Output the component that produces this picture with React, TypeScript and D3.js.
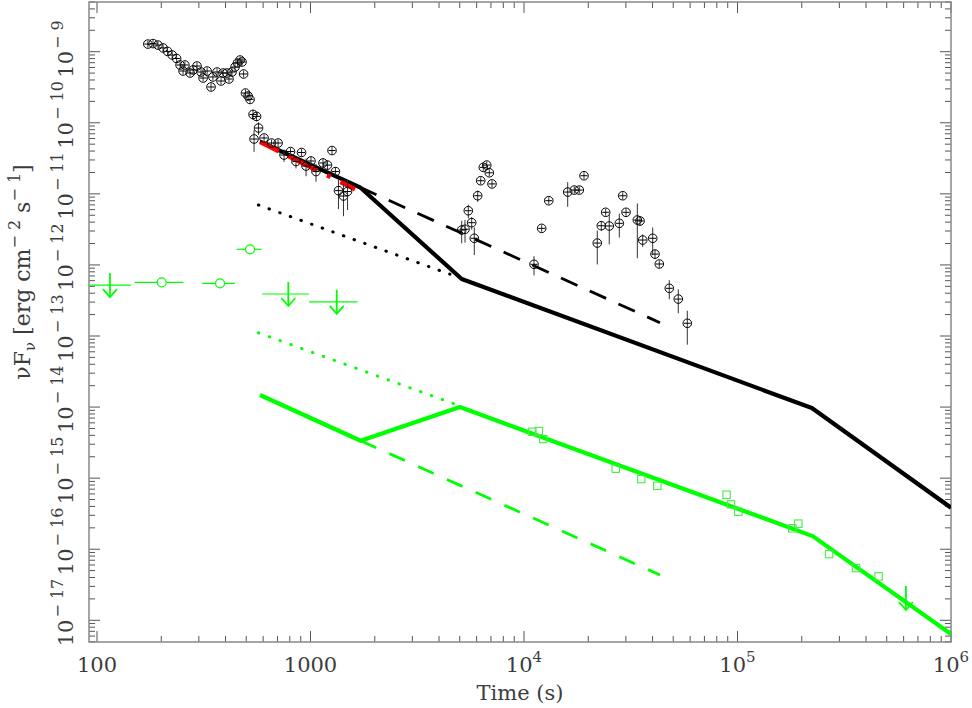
import React, { useEffect, useRef } from "react";
import * as d3 from "d3";

// X-ray (black) light curve: time (s), nuFnu flux, relative error
const blackTime = [173, 183, 193, 204, 214, 225, 236, 245, 253, 258, 273, 282, 294, 307, 314, 328, 342, 349, 365, 381, 389, 406, 415, 429, 443, 455, 468, 478, 486, 496, 510, 521, 538, 559, 571, 544, 606, 657, 705, 752, 806, 855, 908, 953, 1005, 1061, 1144, 1201, 1261, 1309, 1352, 1427, 1491, 5108, 5292, 5484, 5689, 5850, 6069, 6269, 6448, 6689, 6879, 7081, 11140, 12100, 13060, 16020, 17200, 18160, 19100, 22040, 23020, 24130, 25080, 27950, 29000, 30050, 33950, 34950, 35970, 40070, 41080, 43030, 47920, 52800, 58200];
const blackFlux = [1.28e-9, 1.30e-9, 1.24e-9, 1.13e-9, 1.01e-9, 8.99e-10, 8.02e-10, 6.50e-10, 5.35e-10, 6.50e-10, 5.01e-10, 5.53e-10, 6.29e-10, 5.18e-10, 4.26e-10, 5.35e-10, 3.19e-10, 4.41e-10, 5.18e-10, 3.87e-10, 5.01e-10, 5.01e-10, 4.13e-10, 5.18e-10, 6.09e-10, 6.93e-10, 7.64e-10, 7.16e-10, 4.86e-10, 2.62e-10, 2.38e-10, 2.13e-10, 1.31e-10, 1.23e-10, 8.44e-11, 5.91e-11, 6.11e-11, 5.19e-11, 5.19e-11, 3.52e-11, 3.94e-11, 2.85e-11, 3.82e-11, 2.46e-11, 2.90e-11, 2.06e-11, 2.72e-11, 2.54e-11, 4.07e-11, 2.06e-11, 1.11e-11, 9.32e-12, 1.08e-11, 3.10e-12, 3.17e-12, 5.79e-12, 3.93e-12, 2.37e-12, 9.41e-12, 1.53e-11, 2.36e-11, 2.54e-11, 1.98e-11, 1.38e-11, 1.02e-12, 3.27e-12, 8.01e-12, 1.06e-11, 1.13e-11, 1.13e-11, 1.80e-11, 2.03e-12, 3.56e-12, 5.50e-12, 3.53e-12, 3.85e-12, 9.41e-12, 5.50e-12, 4.28e-12, 4.15e-12, 2.24e-12, 2.37e-12, 1.42e-12, 1.03e-12, 4.69e-13, 3.31e-13, 1.51e-13];
const blackErr = [0.05, 0.05, 0.05, 0.05, 0.05, 0.05, 0.05, 0.05, 0.05, 0.05, 0.05, 0.05, 0.05, 0.05, 0.05, 0.05, 0.05, 0.05, 0.05, 0.05, 0.05, 0.05, 0.05, 0.05, 0.05, 0.05, 0.05, 0.05, 0.1, 0.08, 0.08, 0.08, 0.17, 0.15, 0.2, 0.34, 0.1, 0.1, 0.12, 0.2, 0.12, 0.2, 0.12, 0.28, 0.15, 0.28, 0.15, 0.15, 0.12, 0.15, 0.45, 0.48, 0.45, 0.35, 0.35, 0.22, 0.2, 0.42, 0.18, 0.1, 0.08, 0.08, 0.1, 0.1, 0.3, 0.1, 0.08, 0.38, 0.1, 0.1, 0.08, 0.5, 0.15, 0.1, 0.45, 0.37, 0.08, 0.1, 0.71, 0.15, 0.2, 0.42, 0.15, 0.12, 0.3, 0.37, 0.5];

// optical (green) detections
const greenSqTime = [10940, 11750, 12300, 26900, 35400, 42100, 88900, 93200, 100900, 180600, 192700, 268400, 359000, 458000];
const greenSqFlux = [4.5e-15, 4.6e-15, 3.55e-15, 1.36e-15, 9.7e-16, 7.8e-16, 5.85e-16, 4.28e-16, 3.37e-16, 1.97e-16, 2.29e-16, 8.55e-17, 5.43e-17, 4.15e-17];
const greenCircTime = [201, 377, 521];
const greenCircFlux = [5.69e-13, 5.51e-13, 1.66e-12];
const greenCircTmin = [150, 311, 451];
const greenCircTmax = [254, 443, 590];
const greenUlTime = [115, 787, 1327, 615000];
const greenUlFlux = [5.21e-13, 3.90e-13, 3.03e-13, 2.06e-17];
const greenUlTmin = [88, 594, 984, 615000];
const greenUlTmax = [144, 984, 1663, 615000];

// model curves
const blackModelT = [580, 1706, 5108, 223000, 1000000];
const blackModelF = [5.42e-11, 1.236e-11, 6.34e-13, 9.7e-15, 3.84e-16];
const blackDashT = [1706, 43350];
const blackDashF = [1.236e-11, 1.54e-13];
const blackDotT = [570, 4500];
const blackDotF = [6.97e-12, 7.4e-13];
const redFitT = [585, 1616];
const redFitF = [5.31e-11, 1.16e-11];
const greenModelT = [580, 1718, 5010, 225000, 1000000];
const greenModelF = [1.48e-14, 3.36e-15, 1.0e-14, 1.53e-16, 6.4e-18];
const greenDashT = [1718, 43350];
const greenDashF = [3.36e-15, 4.34e-17];
const greenDotT = [570, 4750];
const greenDotF = [1.11e-13, 1.1e-14];

const xDecades = [2, 3, 4, 5, 6];
const yDecades = [-9, -10, -11, -12, -13, -14, -15, -16, -17];

const W = 972, H = 708;
const left = 89, right = 951, top = 2, bottom = 642;
const FONT = "'DejaVu Serif', serif";
const TEXT = "#3c3c3c";
const GREEN = "#00ff00";

export default function App() {
  const ref = useRef(null);

  useEffect(() => {
    const svg = d3.select(ref.current);
    svg.selectAll("*").remove();

    const x = d3.scaleLog().domain([Math.pow(10, 2 - 8 / 213.5), 1e6]).range([left, right]);
    const y = d3.scaleLog().domain([Math.pow(10, -17.3053), Math.pow(10, -8.3007)]).range([bottom, top]);

    svg.append("defs").append("clipPath").attr("id", "plotclip")
      .append("rect").attr("x", left).attr("y", top).attr("width", right - left).attr("height", bottom - top);

    // ticks on all four sides
    const tk = svg.append("g").attr("stroke", "#555").attr("stroke-width", 1);
    for (let d = 1; d <= 6; d++) {
      for (let m = 1; m <= 9; m++) {
        const v = m * Math.pow(10, d);
        if (v < x.domain()[0] || v > 1e6) continue;
        const len = m === 1 ? 11 : 6;
        const px = x(v);
        tk.append("line").attr("x1", px).attr("x2", px).attr("y1", bottom).attr("y2", bottom - len);
        tk.append("line").attr("x1", px).attr("x2", px).attr("y1", top).attr("y2", top + len);
      }
    }
    for (let d = -18; d <= -9; d++) {
      for (let m = 1; m <= 9; m++) {
        const v = m * Math.pow(10, d);
        if (v < y.domain()[0] || v > y.domain()[1]) continue;
        const len = m === 1 ? 11 : 6;
        const py = y(v);
        tk.append("line").attr("x1", left).attr("x2", left + len).attr("y1", py).attr("y2", py);
        tk.append("line").attr("x1", right).attr("x2", right - len).attr("y1", py).attr("y2", py);
      }
    }
    svg.append("rect").attr("x", left).attr("y", top).attr("width", right - left).attr("height", bottom - top)
      .attr("fill", "none").attr("stroke", "#888").attr("stroke-width", 1.5);

    // x tick labels
    xDecades.forEach(d => {
      const t = svg.append("text").attr("x", x(Math.pow(10, d))).attr("y", 672)
        .attr("text-anchor", "middle").attr("font-family", FONT).attr("font-size", 21).attr("fill", TEXT);
      if (d <= 3) t.text(String(Math.pow(10, d)));
      else {
        t.append("tspan").text("10");
        t.append("tspan").attr("dy", -10).attr("font-size", 15).text(String(d));
      }
    });
    svg.append("text").attr("x", 520).attr("y", 700).attr("text-anchor", "middle")
      .attr("font-family", FONT).attr("font-size", 21).attr("fill", TEXT).text("Time (s)");

    // y tick labels (rotated)
    yDecades.forEach(d => {
      const t = svg.append("text")
        .attr("transform", `translate(73,${y(Math.pow(10, d)) + 26}) rotate(-90)`)
        .attr("font-family", FONT).attr("font-size", 21).attr("fill", TEXT);
      t.append("tspan").text("10");
      t.append("tspan").attr("dy", -10).attr("dx", 2).attr("font-size", 16).text("\u2212 " + Math.abs(d));
    });
    const yt = svg.append("text").attr("transform", "translate(30,272) rotate(-90)")
      .attr("text-anchor", "middle").attr("font-family", FONT).attr("font-size", 22).attr("fill", TEXT);
    yt.append("tspan").text("\u03bdF");
    yt.append("tspan").attr("dy", 5).attr("font-size", 15).text("\u03bd");
    yt.append("tspan").attr("dy", -5).text(" [erg cm");
    yt.append("tspan").attr("dy", -10).attr("font-size", 16).text("\u2212 2");
    yt.append("tspan").attr("dy", 10).text(" s");
    yt.append("tspan").attr("dy", -10).attr("font-size", 16).text("\u2212 1");
    yt.append("tspan").attr("dy", 10).text("]");

    const plot = svg.append("g").attr("clip-path", "url(#plotclip)");
    const line = d3.line().x(d => x(d[0])).y(d => y(d[1]));
    const path = (ts, fs, color, width, dash, cap) => {
      plot.append("path").attr("d", line(ts.map((t, i) => [t, fs[i]])))
        .attr("fill", "none").attr("stroke", color).attr("stroke-width", width)
        .attr("stroke-dasharray", dash || null).attr("stroke-linecap", cap || "butt")
        .attr("stroke-linejoin", "round");
    };

    // model curves
    path(blackDotT, blackDotF, "#000", 3, "0.5 10.8", "round");
    path(blackDashT, blackDashF, "#000", 2.8, "18 13.5");
    path(blackModelT, blackModelF, "#000", 4.2);
    path(redFitT, redFitF, "#ff0000", 4.5, "20 10 33 11 4 11 17");
    path(greenDotT, greenDotF, GREEN, 3, "0.5 11", "round");
    path(greenDashT, greenDashF, GREEN, 2.8, "17 14.5");
    path(greenModelT, greenModelF, GREEN, 4.2);

    // black data points
    const bp = plot.append("g").attr("stroke", "#000").attr("fill", "none");
    blackTime.forEach((t, i) => {
      const cx = x(t), cy = y(blackFlux[i]);
      const y1 = Math.min(y(blackFlux[i] * (1 + blackErr[i])), cy - 3.5);
      const y2 = Math.max(y(blackFlux[i] * (1 - blackErr[i])), cy + 3.5);
      bp.append("line").attr("x1", cx).attr("x2", cx).attr("y1", y1).attr("y2", y2).attr("stroke", "#333").attr("stroke-width", 1);
      bp.append("line").attr("x1", cx - 3.5).attr("x2", cx + 3.5).attr("y1", cy).attr("y2", cy).attr("stroke-width", 1);
      bp.append("circle").attr("cx", cx).attr("cy", cy).attr("r", 4.3).attr("stroke-width", 1);
    });

    // green detections
    const gp = plot.append("g").attr("stroke", GREEN).attr("fill", "none");
    greenSqTime.forEach((t, i) => {
      gp.append("rect").attr("x", x(t) - 3.7).attr("y", y(greenSqFlux[i]) - 3.7)
        .attr("width", 7.4).attr("height", 7.4).attr("stroke", "#44ee44").attr("stroke-width", 1.1);
    });
    greenCircTime.forEach((t, i) => {
      const cy = y(greenCircFlux[i]);
      gp.append("line").attr("x1", x(greenCircTmin[i])).attr("x2", x(greenCircTmax[i]))
        .attr("y1", cy).attr("y2", cy).attr("stroke-width", 1.2);
      gp.append("circle").attr("cx", x(t)).attr("cy", cy).attr("r", 4.5).attr("stroke-width", 1.2).attr("fill", "#fff");
    });
    greenUlTime.forEach((t, i) => {
      const cx = x(t), cy = y(greenUlFlux[i]);
      if (greenUlTmax[i] > greenUlTmin[i]) {
        gp.append("line").attr("x1", x(greenUlTmin[i])).attr("x2", x(greenUlTmax[i]))
          .attr("y1", cy).attr("y2", cy).attr("stroke-width", 1.2);
      }
      gp.append("line").attr("x1", cx).attr("x2", cx).attr("y1", cy - 12).attr("y2", cy + 12).attr("stroke-width", 1.8);
      gp.append("path").attr("d", `M${cx - 7},${cy + 4}L${cx},${cy + 12}L${cx + 7},${cy + 4}`).attr("stroke-width", 1.8);
    });
  }, []);

  return (
    <svg ref={ref} width={W} height={H} style={{ position: "absolute", left: 0, top: 0, background: "#fff" }} />
  );
}
